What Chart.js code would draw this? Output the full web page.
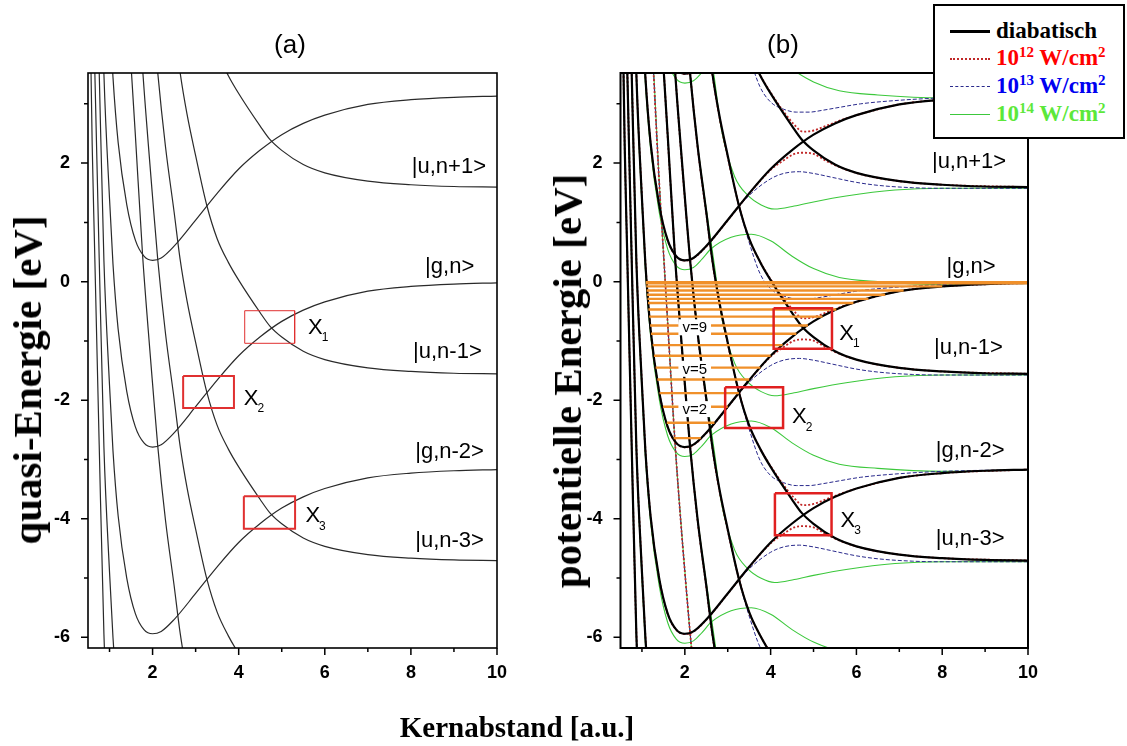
<!DOCTYPE html>
<html lang="de">
<head>
<meta charset="UTF-8">
<title>Kernabstand</title>
<script src="https://cdn.jsdelivr.net/npm/chart.js@4.4.0/dist/chart.umd.min.js"></script>
<style>
  body { margin: 0; width: 1127px; height: 746px; background: #fff; position: relative; overflow: hidden; }
  .panel { position: absolute; top: 0; height: 746px; }
  #pa { left: 0; width: 540px; }
  #pb { left: 540px; width: 540px; }
  .ttl { position: absolute; font: 26px "Liberation Sans", Arial, sans-serif; color: #000; transform: translate(-50%, -50%); }
  .ytitle { position: absolute; font: bold 41px "Liberation Serif", "Times New Roman", serif; white-space: nowrap;
            transform: translate(-50%, -50%) rotate(-90deg); }
  .xtitle { position: absolute; font: bold 29px "Liberation Serif", "Times New Roman", serif; white-space: nowrap;
            transform: translate(-50%, -50%); }
  #legend { position: absolute; left: 933px; top: 4px; width: 188px; height: 131px; border: 2px solid #000; background: #fff; }
  #legend .row { position: absolute; left: 0; width: 188px; height: 26px; }
  #legend .smp { position: absolute; left: 15px; width: 40px; top: 13px; }
  #legend .txt { position: absolute; left: 61px; top: 0; font: bold 23px "Liberation Serif", "Times New Roman", serif; line-height: 26px; }
  #legend sup { font-size: 15px; vertical-align: 8px; line-height: 0; }
</style>
</head>
<body>
<div class="panel" id="pa"><canvas id="chartA" width="540" height="746"></canvas></div>
<div class="panel" id="pb"><canvas id="chartB" width="540" height="746"></canvas></div>

<div class="ttl" style="left:290px; top:44px;">(a)</div>
<div class="ttl" style="left:783px; top:44px;">(b)</div>
<div class="ytitle" style="left:27px; top:380px;">quasi-Energie [eV]</div>
<div class="ytitle" style="left:567px; top:381px;">potentielle Energie [eV]</div>
<div class="xtitle" style="left:517px; top:727px;">Kernabstand [a.u.]</div>

<div id="legend">
  <div class="row" style="top:12px"><div class="smp" style="border-top:3px solid #000; top:12px"></div><div class="txt" style="color:#000">diabatisch</div></div>
  <div class="row" style="top:39px"><div class="smp" style="border-top:2px dotted #c02828"></div><div class="txt" style="color:#ff0000">10<sup>12</sup> W/cm<sup>2</sup></div></div>
  <div class="row" style="top:67px"><div class="smp" style="border-top:1px dashed #2a2a8c"></div><div class="txt" style="color:#0000f0">10<sup>13</sup> W/cm<sup>2</sup></div></div>
  <div class="row" style="top:95px"><div class="smp" style="border-top:1px solid #3cc83c"></div><div class="txt" style="color:#5ce83a">10<sup>14</sup> W/cm<sup>2</sup></div></div>
</div>

<script>
// diabatische Potentialkurven (relativ zur eigenen Asymptote)
const gR = [0.5, 0.57, 0.66, 0.76, 0.87, 1.0, 1.08, 1.2, 1.4, 1.6, 1.8, 2.0, 2.2, 2.5, 3.0, 3.5, 4.0, 4.5, 5.0, 5.5, 6.0, 7.0, 8.0, 9.0, 10.0];
const gV = [18.5, 13.0, 9.8, 6.7, 3.5, 1.4, 0.3, -0.8, -1.85, -2.45, -2.72, -2.79, -2.75, -2.55, -2.11, -1.66, -1.25, -0.93, -0.67, -0.48, -0.34, -0.16, -0.08, -0.04, -0.02];
const uR = [1.0, 1.2, 1.4, 1.51, 1.6, 1.77, 1.9, 2.0, 2.12, 2.3, 2.5, 2.64, 2.8, 3.0, 3.26, 3.5, 3.76, 4.0, 4.5, 4.73, 5.0, 5.5, 6.0, 7.0, 8.0, 9.0, 10.0];
const uV = [22.0, 18.8, 15.9, 14.55, 13.5, 11.45, 10.2, 9.3, 8.25, 7.0, 5.9, 5.1, 4.4, 3.7, 2.86, 2.3, 1.9, 1.6, 1.05, 0.82, 0.64, 0.40, 0.26, 0.12, 0.06, 0.03, 0.02];

// Asymptoten der Floquet-Zustände (eV)
const gLevelsA = [3.15, 0, -3.15, -6.3, -9.45];          // g,n+2 ... g,n-6
const gLevelsB = [6.3, 3.15, 0, -3.15, -6.3, -9.45];     // g,n+4 ... g,n-6
const uLevels = [1.575, -1.575, -4.725, -7.875, -11.025]; // u,n+1 ... u,n-7

// adiabatische Kurven, relativ zur Asymptote
const upperLevels = [3.15, 0, -3.15, -6.3, -9.45, -12.6];
const lowerLevels = [4.725, 1.575, -1.575, -4.725, -7.875, -11.025];

const redUpR = [1.0, 1.2, 1.4, 1.51, 1.6, 1.77, 1.9, 2.0, 2.12, 2.3, 2.5, 2.64, 2.8, 3.0, 3.26, 3.5, 3.76, 4.0, 4.3, 4.55, 4.75, 5.0, 5.3, 5.7, 6.2, 7.0, 8.0, 10.0];
const redUpV = [20.4, 17.2, 14.3, 13.0, 11.9, 9.9, 8.6, 7.7, 6.7, 5.4, 4.3, 3.5, 2.8, 2.1, 1.29, 0.72, 0.33, 0.04, -0.28, -0.5, -0.62, -0.6, -0.52, -0.41, -0.3, -0.16, -0.08, -0.02];
const redLoR = [0.5, 0.57, 0.66, 0.76, 0.87, 1.0, 1.08, 1.2, 1.4, 1.6, 1.8, 2.0, 2.2, 2.5, 3.0, 3.5, 4.0, 4.3, 4.55, 4.75, 5.0, 5.3, 5.7, 6.2, 7.0, 8.0, 10.0];
const redLoV = [20.1, 14.6, 11.4, 8.3, 5.1, 3.0, 1.9, 0.78, -0.28, -0.88, -1.15, -1.22, -1.18, -0.98, -0.54, -0.09, 0.31, 0.47, 0.58, 0.6, 0.58, 0.46, 0.33, 0.22, 0.12, 0.06, 0.02];

const blueUpR = [1.0, 1.2, 1.4, 1.51, 1.6, 1.77, 1.9, 2.0, 2.12, 2.3, 2.5, 2.64, 2.8, 3.0, 3.26, 3.5, 3.75, 4.0, 4.3, 4.6, 4.9, 5.2, 5.6, 6.1, 7.0, 8.0, 10.0];
const blueUpV = [20.4, 17.2, 14.3, 13.0, 11.9, 9.9, 8.6, 7.7, 6.7, 5.4, 4.3, 3.5, 2.8, 2.1, 1.27, 0.66, 0.14, -0.12, -0.24, -0.29, -0.29, -0.26, -0.21, -0.15, -0.09, -0.05, -0.02];
const blueLoR = [0.5, 0.57, 0.66, 0.76, 0.87, 1.0, 1.08, 1.2, 1.4, 1.6, 1.8, 2.0, 2.2, 2.5, 3.0, 3.5, 4.0, 4.3, 4.67, 5.0, 5.4, 6.0, 6.5, 7.3, 8.0, 10.0];
const blueLoV = [20.1, 14.6, 11.4, 8.3, 5.1, 3.0, 1.9, 0.78, -0.28, -0.88, -1.15, -1.22, -1.18, -0.98, -0.54, -0.12, 0.16, 0.25, 0.28, 0.25, 0.19, 0.1, 0.05, 0.01, 0.0, 0.0];

const greenAR = [0.5, 0.57, 0.66, 0.76, 0.87, 1.0, 1.08, 1.2, 1.4, 1.6, 1.8, 2.0, 2.2, 2.4, 2.62, 3.08, 3.55, 4.0, 4.5, 5.0, 5.6, 6.5, 8.0, 10.0];
const greenAV = [21.6, 16.1, 12.9, 9.8, 6.6, 4.45, 3.35, 2.25, 1.18, 0.55, 0.27, 0.2, 0.24, 0.38, 0.56, 0.75, 0.8, 0.69, 0.43, 0.22, 0.07, 0.0, -0.05, -0.02];
const greenBR = [1.0, 1.2, 1.4, 1.51, 1.6, 1.77, 1.9, 2.0, 2.12, 2.3, 2.5, 2.69, 2.85, 3.16, 3.47, 3.78, 4.09, 4.55, 5.0, 5.76, 6.9, 8.0, 10.0];
const greenBV = [18.85, 15.65, 12.75, 11.4, 10.35, 8.3, 7.05, 6.15, 5.1, 3.87, 2.8, 1.85, 1.0, 0.2, -0.12, -0.28, -0.35, -0.3, -0.23, -0.13, -0.03, 0.0, 0.0];

// Vibrationsniveaus im |g,n>-Potential
const vibE = [-2.64, -2.38, -2.11, -1.88, -1.65, -1.45, -1.25, -1.07, -0.88, -0.74, -0.59, -0.47, -0.36, -0.29, -0.22, -0.15, -0.08, -0.02];
const vibLeft = [1.74, 1.58, 1.49, 1.41, 1.36, 1.32, 1.28, 1.25, 1.21, 1.19, 1.17, 1.15, 1.14, 1.13, 1.12, 1.11, 1.10, 1.09];
const vibRight = [2.37, 2.69, 3.0, 3.26, 3.5, 3.76, 4.0, 4.28, 4.6, 4.87, 5.21, 5.53, 5.93, 6.28, 6.67, 7.1, 8.0, 10.0];

// Kreuzungsbereiche X1..X3: [R von, R bis, E oben, E unten]
const boxesA = [[4.14, 5.3, -0.49, -1.04], [2.71, 3.89, -1.59, -2.13], [4.12, 5.31, -3.62, -4.17]];
const boxesB = [[4.07, 5.43, -0.45, -1.13], [2.94, 4.29, -1.78, -2.47], [4.1, 5.42, -3.57, -4.28]];

const xTicks = [2, 4, 6, 8, 10];
const xMinor = [1, 3, 5, 7, 9];
const yTicks = [-6, -4, -2, 0, 2];
const yMinor = [-5, -3, -1, 1, 3];

function curve(xs, ys, off) {
    return xs.map((r, i) => ({ x: r, y: ys[i] + off }));
}

function line(data, color, width, dash, order) {
    return { data: data, borderColor: color, borderWidth: width, borderDash: dash || [],
             pointRadius: 0, fill: false, cubicInterpolationMode: 'monotone', order: order };
}

function boxSets(boxes, widths, color) {
    return boxes.map((b, i) => ({
        data: [{x: b[0], y: b[2]}, {x: b[1], y: b[2]}, {x: b[1], y: b[3]}, {x: b[0], y: b[3]}, {x: b[0], y: b[2]}],
        borderColor: color, borderWidth: widths[i], pointRadius: 0, tension: 0, fill: false, order: 0
    }));
}

// Rahmen, Ticks und Beschriftungen
const decor = {
    id: 'decor',
    afterDatasetsDraw(chart, args, o) {
        const { ctx, chartArea: a, scales: { x, y } } = chart;
        ctx.save();
        ctx.strokeStyle = '#000';
        ctx.lineWidth = o.frame;
        ctx.strokeRect(a.left, a.top, a.right - a.left, a.bottom - a.top);
        ctx.lineWidth = 1.5;
        ctx.beginPath();
        xTicks.forEach(v => { const p = x.getPixelForValue(v); ctx.moveTo(p, a.bottom); ctx.lineTo(p, a.bottom + 7); });
        xMinor.forEach(v => { const p = x.getPixelForValue(v); ctx.moveTo(p, a.bottom); ctx.lineTo(p, a.bottom + 4); });
        yTicks.forEach(v => { const p = y.getPixelForValue(v); ctx.moveTo(a.left, p); ctx.lineTo(a.left - 7, p); });
        yMinor.forEach(v => { const p = y.getPixelForValue(v); ctx.moveTo(a.left, p); ctx.lineTo(a.left - 4, p); });
        ctx.stroke();

        ctx.fillStyle = '#000';
        ctx.textBaseline = 'middle';
        ctx.textAlign = 'left';
        o.states.forEach(s => {
            ctx.font = o.stateFont;
            ctx.fillText(s[0], x.getPixelForValue(s[1]), y.getPixelForValue(s[2]));
        });
        o.crossings.forEach(s => {
            const px = x.getPixelForValue(s[1]), py = y.getPixelForValue(s[2]);
            ctx.font = o.stateFont;
            ctx.fillText('X', px, py);
            const w = ctx.measureText('X').width;
            ctx.font = '12px "Liberation Sans", Arial, sans-serif';
            ctx.fillText(s[0], px + w - 1, py + 10);
        });
        (o.vib || []).forEach(s => {
            ctx.font = '15px "Liberation Sans", Arial, sans-serif';
            const px = x.getPixelForValue(s[1]), py = y.getPixelForValue(s[2]);
            const w = ctx.measureText(s[0]).width;
            ctx.fillStyle = '#fff';
            ctx.fillRect(px - w / 2 - 4, py - 8, w + 8, 16);
            ctx.fillStyle = '#000';
            ctx.textAlign = 'center';
            ctx.fillText(s[0], px, py + 1);
            ctx.textAlign = 'left';
        });
        ctx.restore();
    }
};

function options(pad, frame, states, crossings, vib) {
    return {
        responsive: false,
        animation: false,
        events: [],
        layout: { padding: pad },
        plugins: {
            legend: { display: false },
            tooltip: { enabled: false },
            decor: { frame: frame, states: states, crossings: crossings, vib: vib,
                     stateFont: '22px "Liberation Sans", Arial, sans-serif' }
        },
        scales: {
            x: {
                type: 'linear', min: 0.5, max: 10,
                grid: { display: false }, border: { display: false },
                afterBuildTicks: s => { s.ticks = xTicks.map(v => ({ value: v })); },
                afterFit: s => { s.height = 40; },
                ticks: { padding: 6, color: '#000', font: { family: '"Liberation Sans", Arial', size: 18, weight: 'bold' } }
            },
            y: {
                type: 'linear', min: -6.18, max: 3.52,
                grid: { display: false }, border: { display: false },
                afterBuildTicks: s => { s.ticks = yTicks.map(v => ({ value: v })); },
                afterFit: s => { s.width = 60; },
                ticks: { padding: 10, color: '#000', font: { family: '"Liberation Sans", Arial', size: 18, weight: 'bold' } }
            }
        }
    };
}

// Panel (a): quasi-Energie
const setsA = [];
gLevelsA.forEach(g => setsA.push(line(curve(gR, gV, g), '#2a2a2a', 1.2, null, 2)));
uLevels.forEach(u => setsA.push(line(curve(uR, uV, u), '#2a2a2a', 1.2, null, 2)));
boxSets(boxesA, [1, 2, 2], '#e03030').forEach(d => setsA.push(d));

new Chart(document.getElementById('chartA'), {
    type: 'line',
    data: { datasets: setsA },
    options: options({ left: 28, top: 73, right: 43, bottom: 58 }, 1.6,
        [['|u,n+1>', 8.02, 1.94], ['|g,n>', 8.33, 0.25], ['|u,n-1>', 8.05, -1.18], ['|g,n-2>', 8.1, -2.87], ['|u,n-3>', 8.1, -4.38]],
        [['1', 5.61, -0.78], ['2', 4.12, -1.98], ['3', 5.55, -3.96]], null),
    plugins: [decor]
});

// Panel (b): potentielle Energie
const setsB = [];
upperLevels.forEach(g => {
    setsB.push(line(curve(greenAR, greenAV, g), '#3cc83c', 1.1, null, 5));
    setsB.push(line(curve(blueUpR, blueUpV, g), '#2a2a8c', 1, [4, 2], 4));
    setsB.push(line(curve(redUpR, redUpV, g), '#c02828', 1.8, [2, 2], 3));
});
lowerLevels.forEach(u => {
    setsB.push(line(curve(greenBR, greenBV, u), '#3cc83c', 1.1, null, 5));
    setsB.push(line(curve(blueLoR, blueLoV, u), '#2a2a8c', 1, [4, 2], 4));
    setsB.push(line(curve(redLoR, redLoV, u), '#c02828', 1.8, [2, 2], 3));
});
gLevelsB.forEach(g => setsB.push(line(curve(gR, gV, g), '#000', 2.2, null, 2)));
uLevels.forEach(u => setsB.push(line(curve(uR, uV, u), '#000', 2.2, null, 2)));
vibE.forEach((e, i) => setsB.push({
    data: [{x: vibLeft[i], y: e}, {x: vibRight[i], y: e}],
    borderColor: '#f0902a', borderWidth: i === vibE.length - 1 ? 3.5 : 2.4, pointRadius: 0, order: 1
}));
boxSets(boxesB, [2.5, 2.5, 2.5], '#e02020').forEach(d => setsB.push(d));

new Chart(document.getElementById('chartB'), {
    type: 'line',
    data: { datasets: setsB },
    options: options({ left: 20.5, top: 73, right: 52, bottom: 58 }, 2,
        [['|u,n+1>', 7.76, 2.02], ['|g,n>', 8.1, 0.24], ['|u,n-1>', 7.81, -1.11], ['|g,n-2>', 7.85, -2.85], ['|u,n-3>', 7.85, -4.34]],
        [['1', 5.6, -0.88], ['2', 4.5, -2.29], ['3', 5.63, -4.03]],
        [['v=9', 2.23, -0.77], ['v=5', 2.23, -1.47], ['v=2', 2.23, -2.15]]),
    plugins: [decor]
});
</script>
</body>
</html>
